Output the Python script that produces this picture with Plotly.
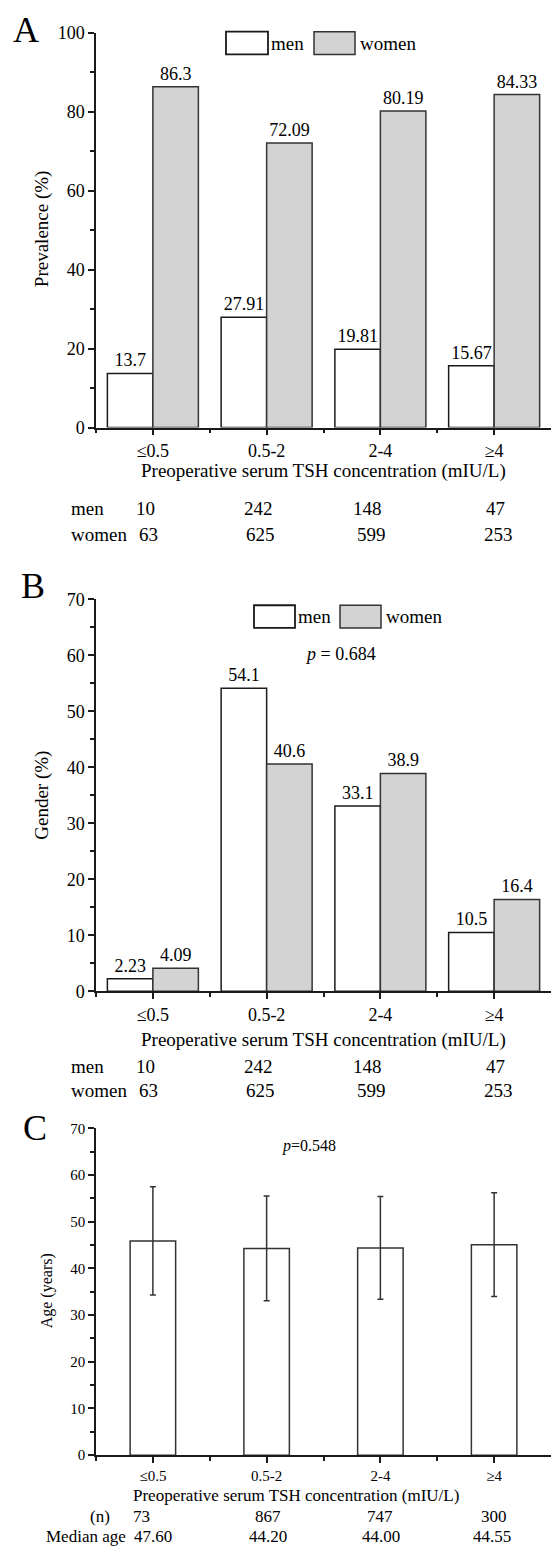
import plotly.graph_objects as go

# ---------------- data ----------------
categories = ["≤0.5", "0.5-2", "2-4", "≥4"]
cat_idx = [0, 1, 2, 3]

prev_men = [13.7, 27.91, 19.81, 15.67]
prev_women = [86.3, 72.09, 80.19, 84.33]
prev_men_txt = ["13.7", "27.91", "19.81", "15.67"]
prev_women_txt = ["86.3", "72.09", "80.19", "84.33"]

gender_men = [2.23, 54.1, 33.1, 10.5]
gender_women = [4.09, 40.6, 38.9, 16.4]
gender_men_txt = ["2.23", "54.1", "33.1", "10.5"]
gender_women_txt = ["4.09", "40.6", "38.9", "16.4"]

n_men = ["10", "242", "148", "47"]
n_women = ["63", "625", "599", "253"]

age_mean = [45.9, 44.3, 44.4, 45.1]
age_sd = [11.6, 11.2, 11.0, 11.1]
n_total = ["73", "867", "747", "300"]
median_age = ["47.60", "44.20", "44.00", "44.55"]

p_gender = "0.684"
p_age = "0.548"
xtitle = "Preoperative serum TSH concentration (mIU/L)"

# ---------------- layout helpers ----------------
W, H = 552, 1554
FONT = "Liberation Serif, Times New Roman, DejaVu Serif, serif"


def py(px):
    return 1 - px / H


def px_x(px):
    return px / W


XDOM = [px_x(96), px_x(551)]
panels = {
    "A": dict(y0=423, y1=23, rng=[0, 100], dtick=20, minor=10, fs=18),
    "B": dict(y0=994, y1=597, rng=[0, 70], dtick=10, minor=5, fs=18),
    "C": dict(y0=1464, y1=1133, rng=[0, 70], dtick=10, minor=5, fs=15),
}

fig = go.Figure()

LINE = "#1a1a1a"
GREY = "#d3d3d3"

# Panel A bars
fig.add_trace(go.Bar(x=cat_idx, y=prev_men, text=prev_men_txt, textposition="outside",
                     marker=dict(color="white", line=dict(color=LINE, width=1.5)),
                     xaxis="x", yaxis="y", width=0.4, offset=-0.4, cliponaxis=False,
                     textfont=dict(family=FONT, size=18, color="black"), name="men"))
fig.add_trace(go.Bar(x=cat_idx, y=prev_women, text=prev_women_txt, textposition="outside",
                     marker=dict(color=GREY, line=dict(color="#333333", width=1.5)),
                     xaxis="x", yaxis="y", width=0.4, offset=0.0, cliponaxis=False,
                     textfont=dict(family=FONT, size=18, color="black"), name="women"))
# Panel B bars
fig.add_trace(go.Bar(x=cat_idx, y=gender_men, text=gender_men_txt, textposition="outside",
                     marker=dict(color="white", line=dict(color=LINE, width=1.5)),
                     xaxis="x2", yaxis="y2", width=0.4, offset=-0.4, cliponaxis=False,
                     textfont=dict(family=FONT, size=18, color="black"), name="men"))
fig.add_trace(go.Bar(x=cat_idx, y=gender_women, text=gender_women_txt, textposition="outside",
                     marker=dict(color=GREY, line=dict(color="#333333", width=1.5)),
                     xaxis="x2", yaxis="y2", width=0.4, offset=0.0, cliponaxis=False,
                     textfont=dict(family=FONT, size=18, color="black"), name="women"))
# Panel C bars
fig.add_trace(go.Bar(x=cat_idx, y=age_mean,
                     error_y=dict(type="data", array=age_sd, visible=True, color="#333333",
                                  thickness=1.5, width=3),
                     marker=dict(color="white", line=dict(color="#333333", width=1.5)),
                     xaxis="x3", yaxis="y3", width=0.4, offset=-0.2, name="age"))

axis_common = dict(showline=True, linecolor=LINE, linewidth=1.5, ticks="outside",
                   tickcolor=LINE, tickwidth=1.5, showgrid=False, zeroline=False)

for i, (key, p) in enumerate(panels.items()):
    sfx = "" if i == 0 else str(i + 1)
    fig.layout["xaxis" + sfx] = dict(
        **axis_common, domain=XDOM, range=[-0.5, 3.5], anchor="y" + sfx,
        tickmode="array", tickvals=cat_idx, ticktext=categories, ticklen=6,
        tickfont=dict(family=FONT, size=p["fs"], color="black"),
        minor=dict(tickmode="array", tickvals=[-0.5, 0.5, 1.5, 2.5], ticklen=4,
                   tickcolor=LINE, ticks="outside"),
    )
    fig.layout["yaxis" + sfx] = dict(
        **axis_common, domain=[py(p["y0"]), py(p["y1"])], range=p["rng"],
        anchor="x" + sfx, dtick=p["dtick"], ticklen=6,
        tickfont=dict(family=FONT, size=p["fs"], color="black"),
        minor=dict(dtick=p["minor"], ticklen=4, tickcolor=LINE, ticks="outside"),
    )

ann = []


def text(x, y, s, size=17, xanchor="center", xref="paper", xshift=0, angle=0):
    ann.append(dict(x=x, y=y, xref=xref, yref="paper", text=s, showarrow=False,
                    xanchor=xanchor, yanchor="middle", xshift=xshift, textangle=angle,
                    font=dict(family=FONT, size=size, color="black")))


# panel letters
text(px_x(11), py(20), "A", size=36, xanchor="left")
text(px_x(19), py(584), "B", size=36, xanchor="left")
text(px_x(21), py(1133), "C", size=36, xanchor="left")

# y titles
text(px_x(42), py(222), "Prevalence (%)", size=19, angle=-90)
text(px_x(42), py(796), "Gender (%)", size=19, angle=-90)
text(px_x(47), py(1298), "Age (years)", size=16, angle=-90)

# x titles
text(px_x(323), py(467), xtitle, size=19)
text(px_x(323), py(1043), xtitle, size=19)
text(px_x(296), py(1505), xtitle, size=17)

# count tables
shift_m = [-7, -8, -13, 1]
shift_w = [-4, -6, -9, 4]
for (rows_y, xs) in [((505, 531), "x"), ((1070, 1095), "x2")]:
    text(px_x(69), py(rows_y[0]), "men", size=19, xanchor="left")
    text(px_x(69), py(rows_y[1]), "women", size=19, xanchor="left")
    for i in cat_idx:
        text(i, py(rows_y[0]), n_men[i], size=19, xref=xs, xshift=shift_m[i])
        text(i, py(rows_y[1]), n_women[i], size=19, xref=xs, xshift=shift_w[i])

text(px_x(112), py(1526), "(n)", size=17, xanchor="right")
text(px_x(128), py(1546), "Median age", size=17, xanchor="right")
shift_n = [-11, 1, 0, 0]
shift_med = [0, 1, 1, -2]
for i in cat_idx:
    text(i, py(1526), n_total[i], size=17, xref="x3", xshift=shift_n[i])
    text(i, py(1546), median_age[i], size=17, xref="x3", xshift=shift_med[i])

# p values
text(px_x(340), py(652), "<i>p</i> = " + p_gender, size=18)
text(px_x(309), py(1151), "<i>p</i>=" + p_age, size=16)

# manual legends (boxes + labels)
shapes = []


def legend(x0, y0, y1, label_m_x, x0w, label_w_x, size):
    shapes.append(dict(type="rect", xref="paper", yref="paper", x0=px_x(x0[0]), x1=px_x(x0[1]),
                       y0=py(y1), y1=py(y0), fillcolor="white", line=dict(color=LINE, width=1.8)))
    shapes.append(dict(type="rect", xref="paper", yref="paper", x0=px_x(x0w[0]), x1=px_x(x0w[1]),
                       y0=py(y1), y1=py(y0), fillcolor=GREY, line=dict(color="#333333", width=1.5)))
    ym = (y0 + y1) / 2
    text(px_x(label_m_x), py(ym), "men", size=size, xanchor="left")
    text(px_x(label_w_x), py(ym), "women", size=size, xanchor="left")


legend((226, 268), 22, 45, 269, (314, 355), 358, 19)
legend((254, 295), 603, 626, 296, (340, 381), 384, 19)

fig.update_layout(
    width=W, height=H, margin=dict(l=0, r=0, t=0, b=0),
    paper_bgcolor="white", plot_bgcolor="white", showlegend=False,
    barmode="overlay", annotations=ann, shapes=shapes,
    font=dict(family=FONT, color="black"),
)

fig.write_html("out.html", config={"displayModeBar": False},
               post_script="document.body.style.margin='0px';")
